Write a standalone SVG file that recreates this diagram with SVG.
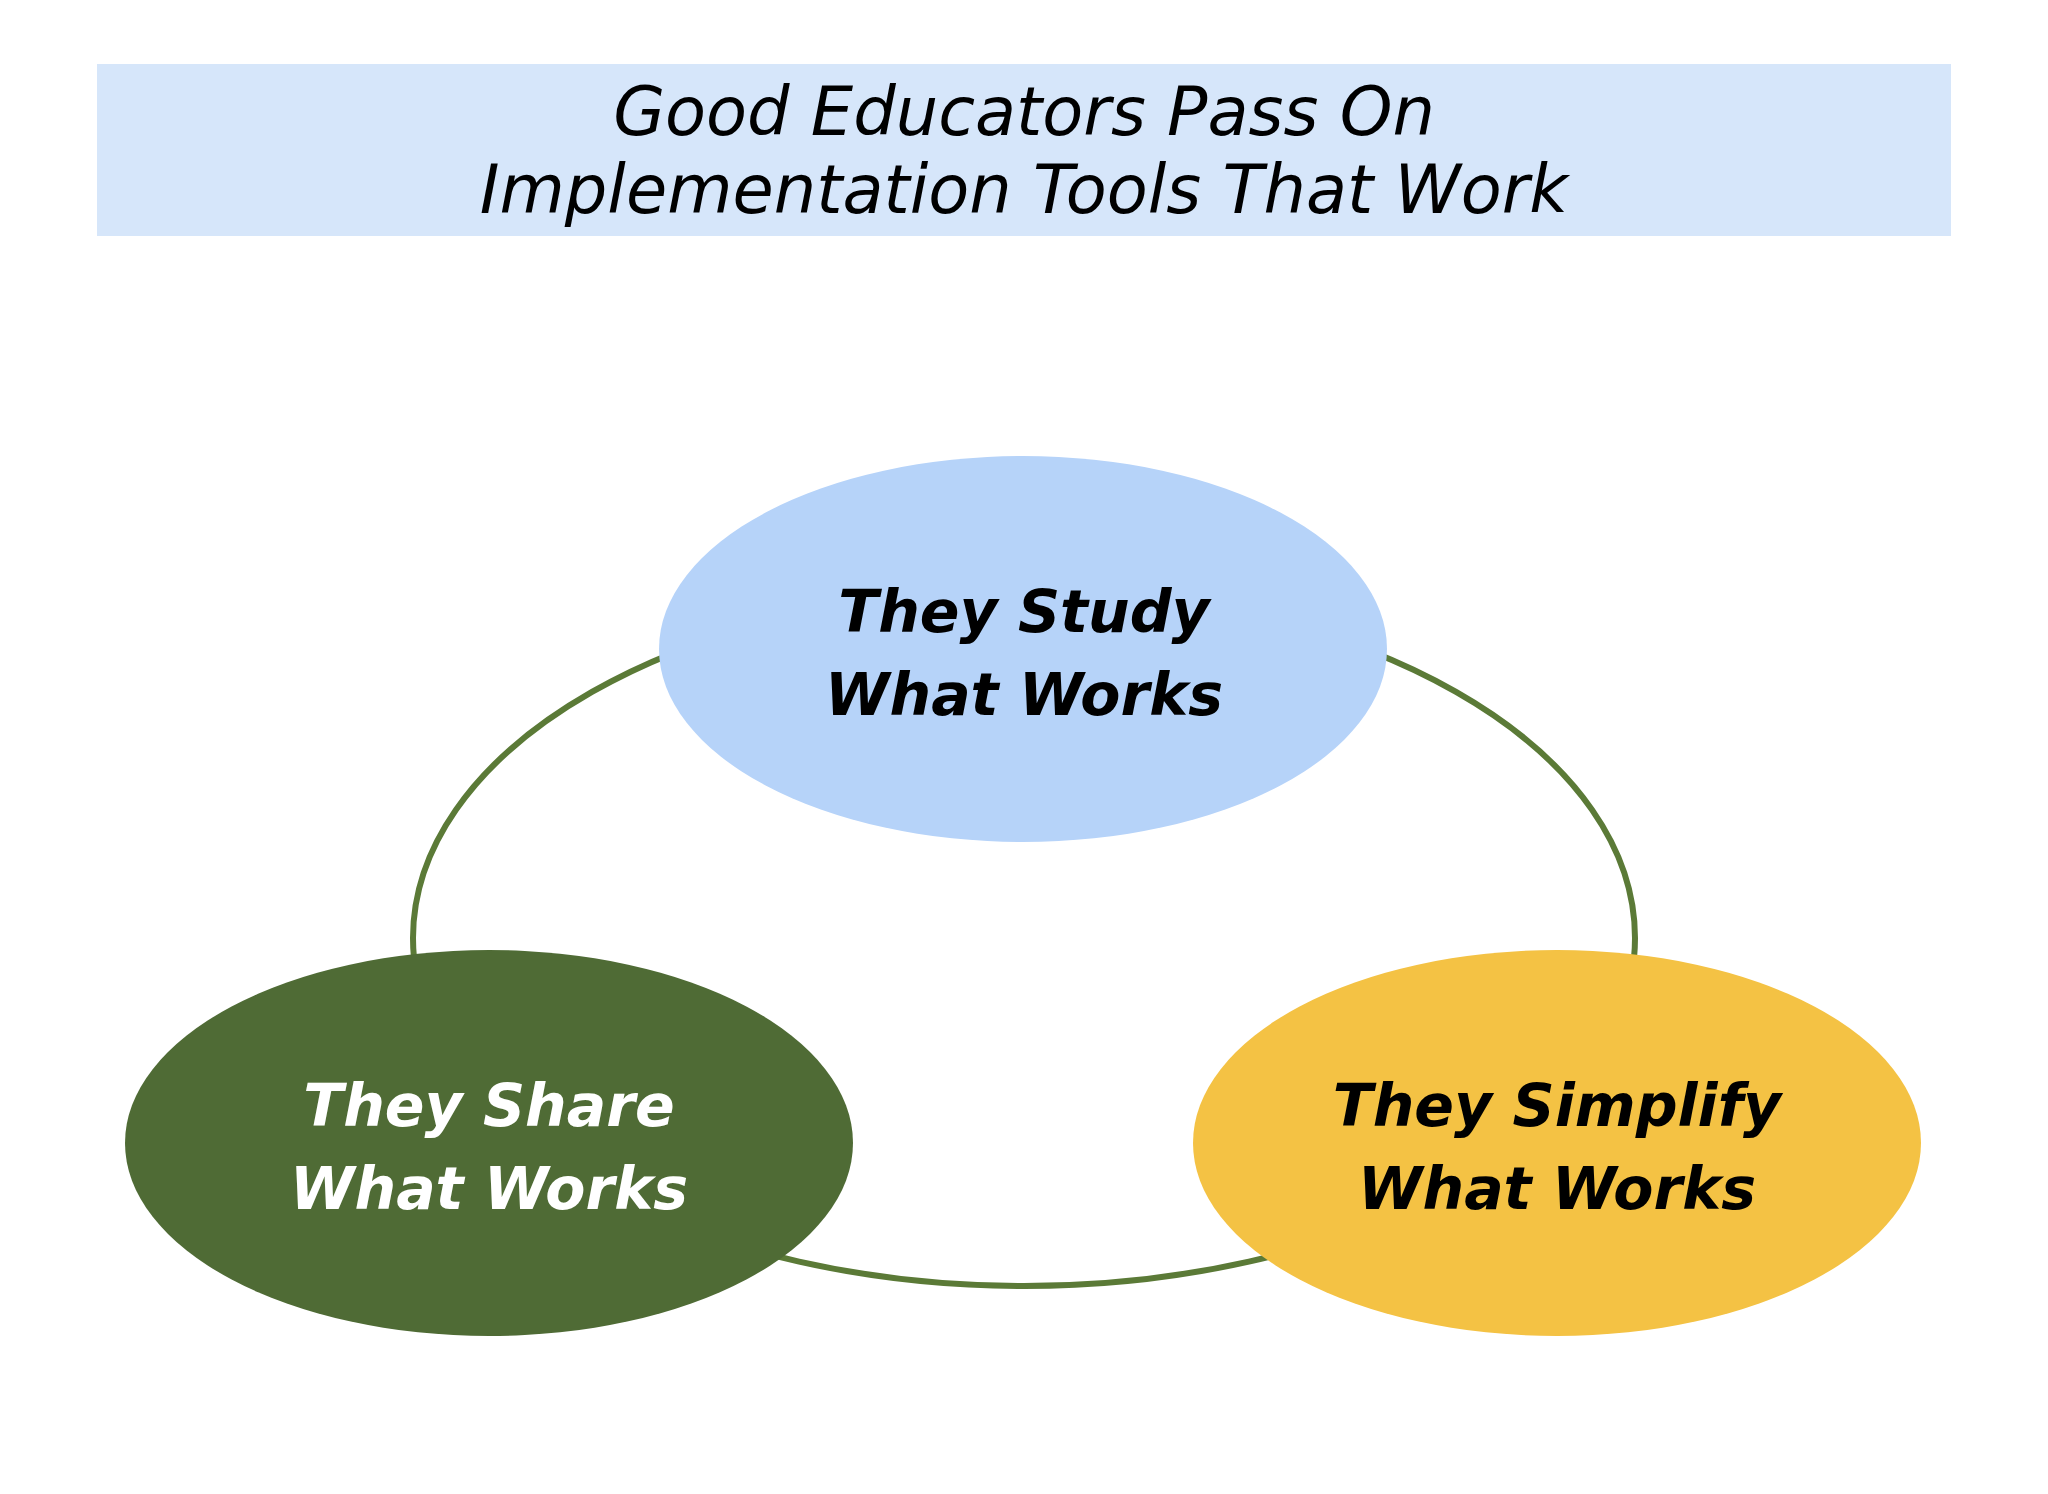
<svg xmlns="http://www.w3.org/2000/svg" width="2048" height="1494" viewBox="0 0 2048 1494">
<style>
.title{font-family:"DejaVu Sans","Liberation Sans",sans-serif;font-style:italic;font-size:67px;fill:#000;text-anchor:middle}
.lbl{font-family:"DejaVu Sans","Liberation Sans",sans-serif;font-style:italic;font-weight:bold;font-size:58.5px;text-anchor:middle}
</style>
<rect width="2048" height="1494" fill="#fff"/>
<g id="title">
<rect x="97" y="64" width="1854" height="172" fill="#D6E6FA"/>
<text class="title" x="1024" y="135">Good Educators Pass On</text>
<text class="title" x="1024" y="213">Implementation Tools That Work</text>
</g>
<g id="connectors">
<ellipse cx="1024" cy="938" rx="611" ry="348" fill="none" stroke="#5B7A37" stroke-width="6"/>
</g>
<g id="study">
<ellipse cx="1023" cy="649" rx="364" ry="193" fill="#B6D3F9"/>
<text class="lbl" x="1024" y="632" fill="#000">They Study</text>
<text class="lbl" x="1024" y="715" fill="#000">What Works</text>
</g>
<g id="share">
<ellipse cx="489" cy="1143" rx="364" ry="193" fill="#4F6B35"/>
<text class="lbl" x="489" y="1126" fill="#fff">They Share</text>
<text class="lbl" x="489" y="1209" fill="#fff">What Works</text>
</g>
<g id="simplify">
<ellipse cx="1557" cy="1143" rx="364" ry="193" fill="#F4C244"/>
<text class="lbl" x="1557" y="1126" fill="#000">They Simplify</text>
<text class="lbl" x="1557" y="1209" fill="#000">What Works</text>
</g>
</svg>
